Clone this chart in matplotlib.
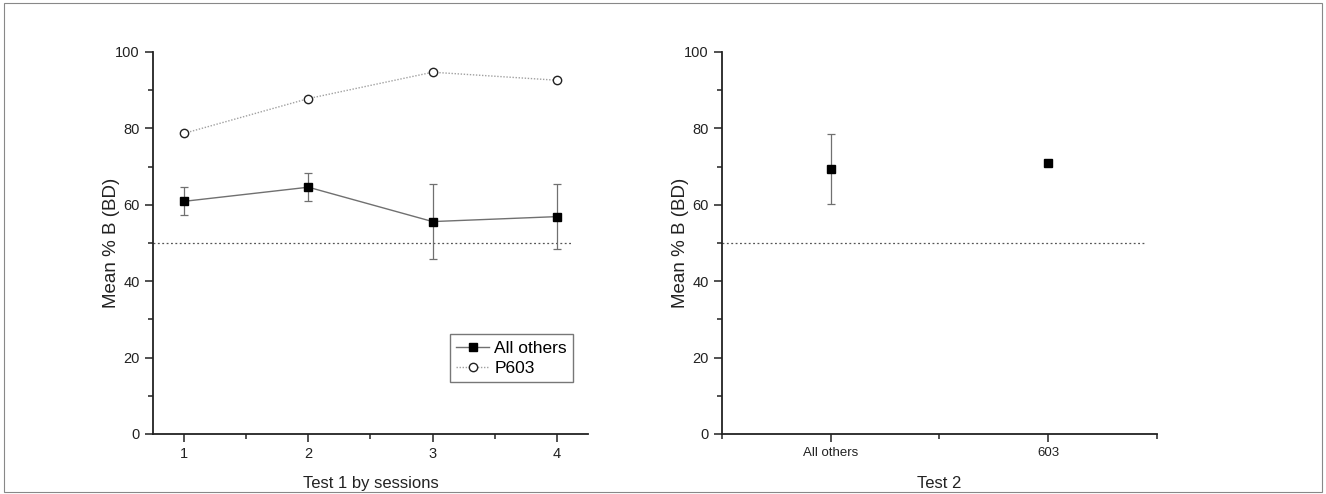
import matplotlib
matplotlib.use("Agg")
import matplotlib.pyplot as plt
from matplotlib.patches import Rectangle
from matplotlib.lines import Line2D
from matplotlib.ticker import MultipleLocator, FixedLocator

plt.rcParams['font.family'] = ['Liberation Sans', 'DejaVu Sans']

# Data
sessions = [1, 2, 3, 4]
all_others = [60.9, 64.6, 55.6, 56.9]
all_others_err = [3.7, 3.7, 9.8, 8.5]
p603 = [78.7, 87.8, 94.7, 92.6]
chance = 50

test2_categories = ["All others", "603"]
test2_values = [69.3, 71.0]
test2_err = [9.1, 0.0]

fig = plt.figure(figsize=(13.26, 4.94), dpi=100)
ax1 = fig.add_axes([0.1154, 0.1215, 0.328, 0.7733])
ax2 = fig.add_axes([0.5445, 0.1215, 0.328, 0.7733])

gray = '#707070'

def style(ax):
    for s in ['top', 'right']:
        ax.spines[s].set_visible(False)
    for s in ['left', 'bottom']:
        ax.spines[s].set_linewidth(1.3)
        ax.spines[s].set_color('#222222')
    ax.set_ylim(0, 100)
    ax.yaxis.set_major_locator(MultipleLocator(20))
    ax.yaxis.set_minor_locator(MultipleLocator(10))
    ax.tick_params(which='major', direction='out', length=6, width=1.1, labelsize=10.5, colors='#222222')
    ax.tick_params(which='minor', direction='out', length=3.5, width=1.1, colors='#222222')
    ax.set_ylabel("Mean % B (BD)", fontsize=13.5, color='#222222')
    ax.yaxis.set_label_coords(-0.075, 0.5)

# Left panel
style(ax1)
ax1.set_xlim(0.75, 4.25)
ax1.set_xticks(sessions)
ax1.xaxis.set_minor_locator(FixedLocator([1.5, 2.5, 3.5]))
ax1.plot([0.75, 4.13], [chance, chance], linestyle=(0, (1.5, 2)), color='#555555', linewidth=0.9)
ax1.errorbar(sessions, all_others, yerr=all_others_err, color=gray, ecolor=gray,
             elinewidth=0.9, capsize=3, capthick=0.9, linewidth=1.0,
             marker='s', markersize=5.5, markerfacecolor='black', markeredgecolor='black',
             zorder=3)
ax1.plot(sessions, p603, linestyle=(0, (1, 1.2)), color='#a0a0a0', linewidth=1.0,
         marker='o', markersize=6, markerfacecolor='white', markeredgecolor='#222222',
         markeredgewidth=1.0, zorder=3)
ax1.set_xlabel("Test 1 by sessions", fontsize=12, color='#222222', labelpad=11)
handles = [
    Line2D([], [], color=gray, linewidth=1.0, marker='s', markersize=5.5,
           markerfacecolor='black', markeredgecolor='black'),
    Line2D([], [], color='#a0a0a0', linewidth=1.0, linestyle=(0, (1, 1.2)), marker='o',
           markersize=6, markerfacecolor='white', markeredgecolor='#222222'),
]
leg = ax1.legend(handles, ['All others', 'P603'], loc='lower right',
                 bbox_to_anchor=(0.966, 0.136), fontsize=12.5, frameon=True,
                 fancybox=False, edgecolor='#555555', handlelength=1.9, handletextpad=0.3,
                 borderpad=0.35, labelspacing=0.3, borderaxespad=0)
leg.get_frame().set_linewidth(1.0)

# Right panel
style(ax2)
x2 = [1, 2]
ax2.set_xlim(0.5, 2.5)
ax2.set_xticks(x2)
ax2.set_xticklabels(test2_categories, fontsize=9.5)
ax2.xaxis.set_minor_locator(FixedLocator([0.5, 1.5, 2.5]))
ax2.plot([0.5, 2.44], [chance, chance], linestyle=(0, (1.5, 2)), color='#555555', linewidth=0.9)
ax2.errorbar(x2, test2_values, yerr=test2_err, linestyle='none', ecolor=gray,
             elinewidth=0.9, capsize=3, capthick=0.9,
             marker='s', markersize=5.5, markerfacecolor='black', markeredgecolor='black', zorder=3)
ax2.set_xlabel("Test 2", fontsize=12, color='#222222', labelpad=12)

# Figure border
fig.patches.append(Rectangle((0.003, 0.004), 0.994, 0.99, transform=fig.transFigure,
                             fill=False, edgecolor='#888888', linewidth=0.8))

fig.savefig("out.png", dpi=100)
